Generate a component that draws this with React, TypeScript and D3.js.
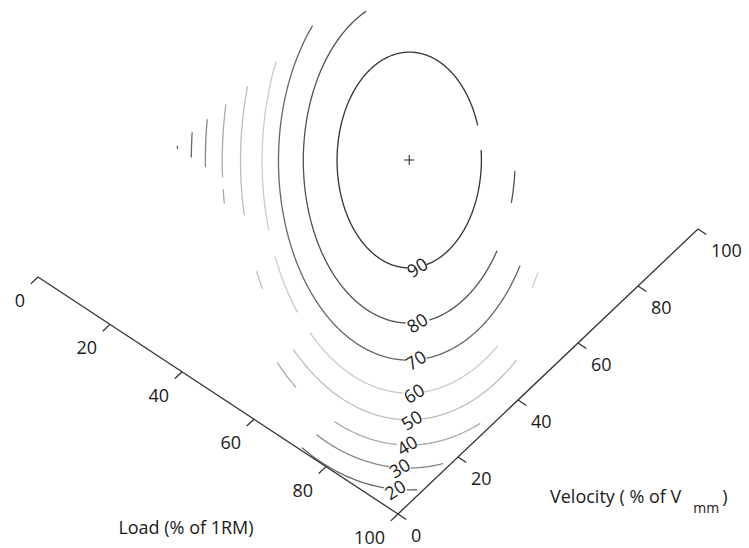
import React from "react";
import * as d3 from "d3";

const W = 749;
const H = 548;

const loadTicks = [0, 20, 40, 60, 80, 100];
const velocityTicks = [0, 20, 40, 60, 80, 100];

// maximum of the surface (the + marker), % of 1RM / % of Vmm
const peakLoad = 40.7;
const peakVelocity = 74.9;

// contour levels, each one an ellipse in the load/velocity plane (semi-axes in % units)
const levels = [90, 80, 70, 60, 50, 40, 30, 20, 10];
const semiA = [15.4, 22.6, 27.9, 31.4, 36.0, 39.9, 43.5, 46.5, 49.5];
const semiB = [29.1, 44.0, 54.0, 62.9, 70.1, 76.9, 83.1, 89.0, 95.0];
const tiltDeg = 39.7;

// visible pieces of each contour, as parametric angles in degrees
const pieces = [
  [[-5, 75.5], [91.6, 341]],
  [[4, 15], [34, 78.6], [92, 245.6]],
  [[32, 82], [92.2, 222]],
  [[29, 33], [53, 83.8], [92.3, 132], [139.3, 155.4], [162.5, 204.8]],
  [[50.5, 85.2], [92.4, 133], [150.3, 154.5], [167.8, 196.3]],
  [[67.6, 87.2], [93.7, 113.2], [127.2, 134.6], [171.3, 174], [176.6, 191.1]],
  [[80.4, 89.2], [95.6, 116.7], [178.7, 187.5]],
  [[87.9, 90.3], [96.6, 119.2], [180.5, 184.7]],
  [[181.9, 182.2]],
];
const labelAngle = [83.5, 85.5, 87, 88, 89, 90.5, 92.5, 93.5, null];
const shades = ["#333", "#505050", "#666", "#cacaca", "#bdbdbd", "#aaa", "#888", "#686868", "#555"];

const FONT = "'Open Sans', 'Liberation Sans', sans-serif";
const INK = "#1a1a1a";

export default function App() {
  // oblique axes: load runs down-right to the corner, velocity runs up-right from it
  const loadX = d3.scaleLinear().domain([0, 100]).range([38, 398]);
  const loadY = d3.scaleLinear().domain([0, 100]).range([277, 514]);
  const velX = d3.scaleLinear().domain([0, 100]).range([0, 300]);
  const velY = d3.scaleLinear().domain([0, 100]).range([0, -285]);
  const project = (l: number, v: number): [number, number] => [loadX(l) + velX(v), loadY(l) + velY(v)];

  const t = (tiltDeg * Math.PI) / 180;
  const u = [Math.cos(t), Math.sin(t)];
  const w = [Math.sin(t), -Math.cos(t)];
  const onContour = (i: number, deg: number): [number, number] => {
    const a = (deg * Math.PI) / 180;
    const l = peakLoad + semiA[i] * Math.cos(a) * u[0] + semiB[i] * Math.sin(a) * w[0];
    const v = peakVelocity + semiA[i] * Math.cos(a) * u[1] + semiB[i] * Math.sin(a) * w[1];
    return project(l, v);
  };
  const line = d3.line();

  const loadStart = project(0, 0);
  const corner = project(100, 0);
  const velEnd = project(100, 100);
  const tickLen = 10;
  // load ticks point away from the velocity direction, velocity ticks along the load direction
  const vd = [velX(100), velY(100)];
  const vn = Math.hypot(vd[0], vd[1]);
  const ld = [loadX(100) - loadX(0), loadY(100) - loadY(0)];
  const ln = Math.hypot(ld[0], ld[1]);

  const peak = project(peakLoad, peakVelocity);

  return (
    <svg width={W} height={H} style={{ position: "absolute", left: 0, top: 0, background: "#fff" }}>
      {/* contours */}
      {levels.map((lev, i) => (
        <g key={lev}>
          {pieces[i].map(([s, e], j) => {
            const pts = d3.range(s, e, 0.5).concat([e]).map((d) => onContour(i, d));
            return <path key={j} d={line(pts) || ""} fill="none" stroke={shades[i]} strokeWidth={1.3} strokeLinecap="round" />;
          })}
          {labelAngle[i] !== null && (() => {
            const [x, y] = onContour(i, labelAngle[i] as number);
            return (
              <text x={x} y={y} transform={`rotate(-32, ${x}, ${y})`} textAnchor="middle" dominantBaseline="central"
                fontFamily={FONT} fontSize={18} fill={INK}>{lev}</text>
            );
          })()}
        </g>
      ))}

      {/* peak marker */}
      <path d={`M${peak[0] - 5},${peak[1]}H${peak[0] + 5}M${peak[0]},${peak[1] - 5}V${peak[1] + 5}`} stroke="#222" strokeWidth={1} />

      {/* load axis */}
      <line x1={loadStart[0]} y1={loadStart[1]} x2={corner[0]} y2={corner[1]} stroke="#333" strokeWidth={1.3} />
      {loadTicks.map((d) => {
        const [x, y] = project(d, 0);
        return (
          <g key={"l" + d}>
            <line x1={x} y1={y} x2={x - (vd[0] / vn) * tickLen} y2={y - (vd[1] / vn) * tickLen} stroke="#333" strokeWidth={1.3} />
            <text x={x - 13} y={y + 23} textAnchor="end" dominantBaseline="central" fontFamily={FONT} fontSize={18} fill={INK}>{d}</text>
          </g>
        );
      })}

      {/* velocity axis */}
      <line x1={corner[0]} y1={corner[1]} x2={velEnd[0]} y2={velEnd[1]} stroke="#333" strokeWidth={1.3} />
      {velocityTicks.map((d) => {
        const [x, y] = project(100, d);
        return (
          <g key={"v" + d}>
            <line x1={x} y1={y} x2={x + (ld[0] / ln) * tickLen} y2={y + (ld[1] / ln) * tickLen} stroke="#333" strokeWidth={1.3} />
            <text x={x + 13} y={y + 21} textAnchor="start" dominantBaseline="central" fontFamily={FONT} fontSize={18} fill={INK}>{d}</text>
          </g>
        );
      })}

      {/* axis titles */}
      <text x={186} y={534} textAnchor="middle" fontFamily={FONT} fontSize={18} fill={INK}>Load (% of 1RM)</text>
      <text x={550} y={503} fontFamily={FONT} fontSize={18} fill={INK}>
        Velocity ( % of V
        <tspan dx={12} dy={10} fontSize={14}>mm</tspan>
        <tspan dx={3} dy={-10}>)</tspan>
      </text>
    </svg>
  );
}
